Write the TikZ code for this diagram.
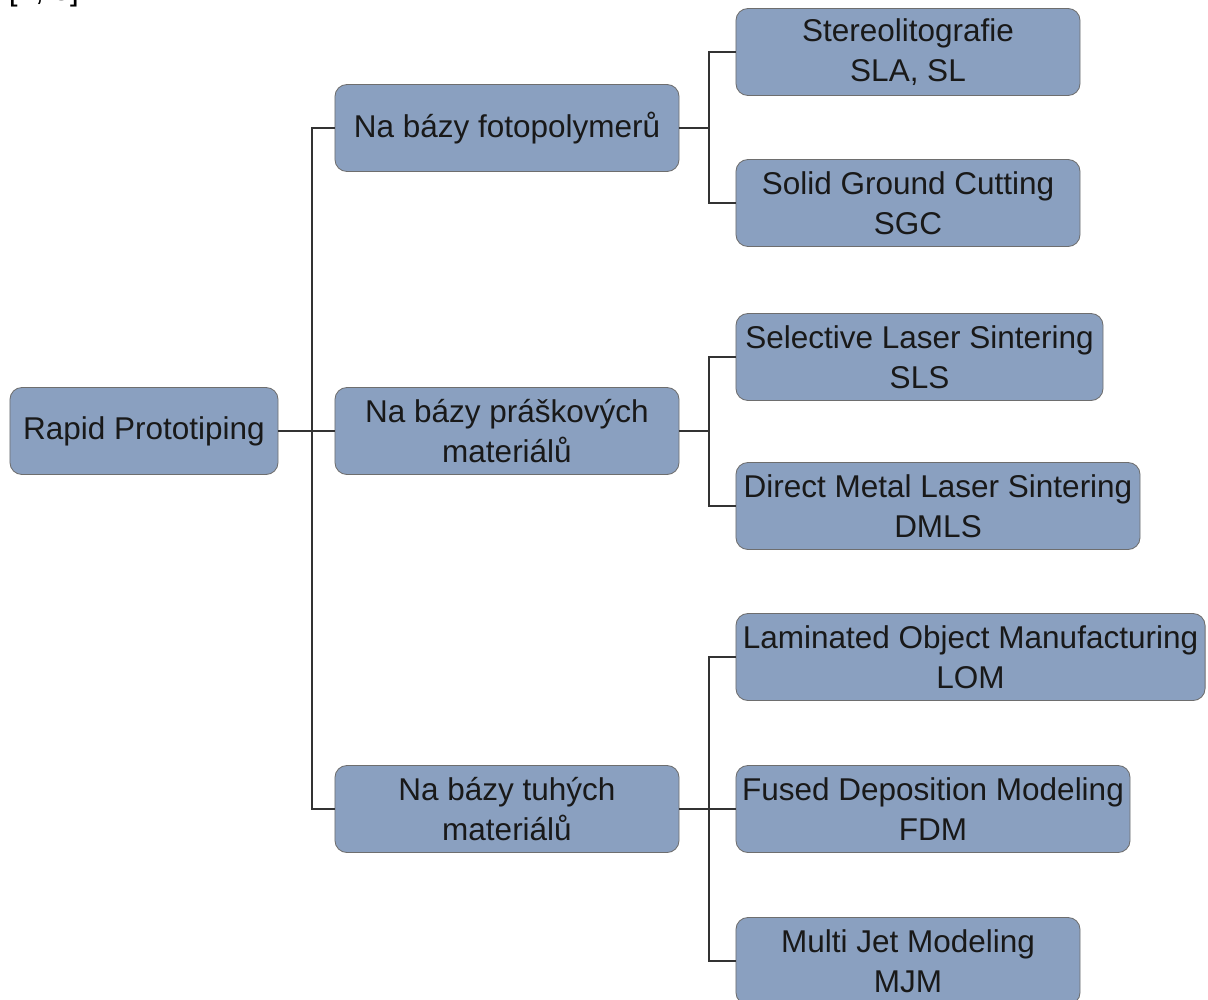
\documentclass[tikz,border=0pt]{standalone}
\usepackage{fontspec}
\setmainfont{Liberation Sans}
\definecolor{boxfill}{HTML}{8AA0C0}
\definecolor{boxline}{HTML}{6E6E6E}
\definecolor{linkcolor}{HTML}{333333}
\tikzset{
    % --- styles ---
    rpbox/.style={draw=boxline, fill=boxfill, rounded corners=0.3cm, line width=0.6pt,
                  align=center, minimum height=2.175cm, inner sep=0pt, text=black!90,
                  font=\fontsize{22.4}{28.5}\selectfont},
    link/.style={draw=linkcolor, line width=1.3pt},
    every node/.style={font=\fontsize{22.4}{28.5}\selectfont}
}

\begin{document}
\begin{tikzpicture}[x=0.025cm, y=-0.025cm]
    \useasboundingbox (0,0) rectangle (1208,999);

    \node[anchor=base west] (ref) at (4,1) {[1, 3]};

    % root
    \node[rpbox, minimum width=6.7cm] (root) at (144,431) {Rapid Prototiping};

    % second level
    \node[rpbox, minimum width=8.6cm] (foto) at (507,128) {Na bázy fotopolymerů};
    \node[rpbox, minimum width=8.6cm] (prasok) at (507,431) {Na bázy práškových\\materiálů};
    \node[rpbox, minimum width=8.6cm] (tuhe) at (507,809) {Na bázy tuhých\\materiálů};

    % leaves
    \node[rpbox, minimum width=8.6cm] (sla) at (908,52) {Stereolitografie\\SLA, SL};
    \node[rpbox, minimum width=8.6cm] (sgc) at (908,203) {Solid Ground Cutting\\SGC};
    \node[rpbox, minimum width=9.175cm] (sls) at (919.5,357) {Selective Laser Sintering\\SLS};
    \node[rpbox, minimum width=10.1cm] (dmls) at (938,506) {Direct Metal Laser Sintering\\DMLS};
    \node[rpbox, minimum width=11.725cm] (lom) at (970.5,657) {Laminated Object Manufacturing\\LOM};
    \node[rpbox, minimum width=9.85cm] (fdm) at (933,809) {Fused Deposition Modeling\\FDM};
    \node[rpbox, minimum width=8.6cm] (mjm) at (908,961) {Multi Jet Modeling\\MJM};

    % bus points
    \coordinate (bus0) at (312,431);
    \coordinate (bus1) at (709,128);
    \coordinate (bus2) at (709,431);
    \coordinate (bus3) at (709,809);

    \draw[link] (root.east) -- (bus0);
    \draw[link] (bus0) |- (foto.west);
    \draw[link] (bus0) -- (prasok.west);
    \draw[link] (bus0) |- (tuhe.west);

    \draw[link] (foto.east) -- (bus1);
    \draw[link] (bus1) |- (sla.west);
    \draw[link] (bus1) |- (sgc.west);

    \draw[link] (prasok.east) -- (bus2);
    \draw[link] (bus2) |- (sls.west);
    \draw[link] (bus2) |- (dmls.west);

    \draw[link] (tuhe.east) -- (bus3);
    \draw[link] (bus3) |- (lom.west);
    \draw[link] (bus3) -- (fdm.west);
    \draw[link] (bus3) |- (mjm.west);
\end{tikzpicture}
\end{document}
